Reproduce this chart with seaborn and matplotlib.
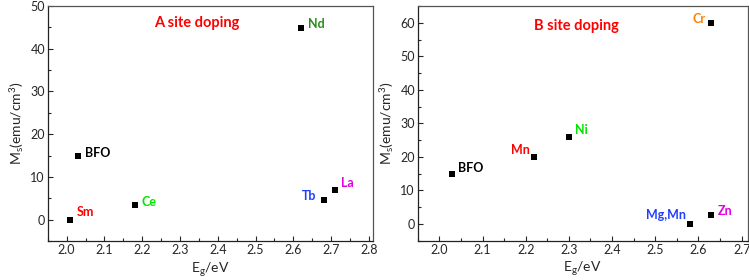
import matplotlib
matplotlib.use("Agg")
import matplotlib.pyplot as plt
import seaborn as sns
import pandas as pd
from matplotlib.ticker import MultipleLocator

# Data
a_labels = ["Sm", "BFO", "Ce", "Nd", "Tb", "La"]
a_eg = [2.01, 2.03, 2.18, 2.62, 2.68, 2.71]
a_ms = [0.0, 15.0, 3.4, 44.8, 4.5, 7.0]
a_colors = ["#FF0000", "#000000", "#00E600", "#2E8B1E", "#1F3FFF", "#E000E0"]

b_labels = ["BFO", "Mn", "Ni", "Cr", "Mg,Mn", "Zn"]
b_eg = [2.03, 2.22, 2.30, 2.63, 2.58, 2.63]
b_ms = [15.0, 20.0, 26.0, 60.0, 0.0, 2.8]
b_colors = ["#000000", "#FF0000", "#00E600", "#FF7F00", "#1F3FFF", "#E000E0"]

titles = ["A site doping", "B site doping"]

sns.set_style("ticks")
plt.rcParams['font.family'] = ['Lato', 'DejaVu Sans']
plt.rcParams['mathtext.fontset'] = 'custom'
plt.rcParams['mathtext.rm'] = 'Lato'
plt.rcParams['mathtext.it'] = 'Lato'
plt.rcParams['mathtext.default'] = 'regular'
plt.rcParams['xtick.direction'] = 'in'
plt.rcParams['ytick.direction'] = 'in'

fig = plt.figure(figsize=(7.49, 2.80), dpi=100)
ax1 = fig.add_axes([0.0637, 0.139, 0.4339, 0.8396])
ax2 = fig.add_axes([0.5577, 0.140, 0.4406, 0.8386])

df_a = pd.DataFrame({"Eg": a_eg, "Ms": a_ms, "label": a_labels})
df_b = pd.DataFrame({"Eg": b_eg, "Ms": b_ms, "label": b_labels})

sns.scatterplot(data=df_a, x="Eg", y="Ms", marker="s", color="black", s=16,
                edgecolor="black", linewidth=0, ax=ax1, zorder=3)
sns.scatterplot(data=df_b, x="Eg", y="Ms", marker="s", color="black", s=16,
                edgecolor="black", linewidth=0, ax=ax2, zorder=3)

# label offsets (pixels, to text centre-line) and alignment
a_off = {"Sm": (6, 8, "left"), "BFO": (7, 3, "left"), "Ce": (7, 3, "left"),
         "Nd": (7, 4, "left"), "Tb": (-7, 4, "right"), "La": (6, 7, "left")}
b_off = {"BFO": (6, 6, "left"), "Mn": (-4, 7, "right"), "Ni": (6, 7, "left"),
         "Cr": (-6, 4, "right"), "Mg,Mn": (-4, 9, "right"), "Zn": (6, 4, "left")}

for ax, labels, xs, ys, cols, offs in [(ax1, a_labels, a_eg, a_ms, a_colors, a_off),
                                       (ax2, b_labels, b_eg, b_ms, b_colors, b_off)]:
    for lab, x, y, c in zip(labels, xs, ys, cols):
        dx, dy, ha = offs[lab]
        ax.annotate(lab, (x, y), xytext=(dx, dy), textcoords="offset pixels",
                    ha=ha, va="center", color=c,
                    fontsize=9, fontweight="bold")

ax1.set_xlim(1.95, 2.81)
ax1.set_ylim(-5, 50)
ax1.xaxis.set_major_locator(MultipleLocator(0.1))
ax1.xaxis.set_minor_locator(MultipleLocator(0.05))
ax1.yaxis.set_major_locator(MultipleLocator(10))
ax1.yaxis.set_minor_locator(MultipleLocator(5))
ax1.text(0.459, 0.928, titles[0], transform=ax1.transAxes, color="#FF0000",
         fontsize=10.5, fontweight="bold", ha="center", va="center")

ax2.set_xlim(1.95, 2.714)
ax2.set_ylim(-5, 65)
ax2.xaxis.set_major_locator(MultipleLocator(0.1))
ax2.xaxis.set_minor_locator(MultipleLocator(0.05))
ax2.yaxis.set_major_locator(MultipleLocator(10))
ax2.yaxis.set_minor_locator(MultipleLocator(5))
ax2.text(0.482, 0.915, titles[1], transform=ax2.transAxes, color="#FF0000",
         fontsize=10.5, fontweight="bold", ha="center", va="center")

for ax in (ax1, ax2):
    ax.set_xlabel(r"E$_g$/eV", fontsize=10, labelpad=3)
    ax.set_ylabel(r"M$_s$(emu/cm$^3$)", fontsize=10, labelpad=3)
    ax.tick_params(which="major", length=3.5, width=0.8, labelsize=9, pad=2,
                   top=False, right=False)
    ax.tick_params(which="minor", length=2, width=0.8, top=False, right=False)
    for sp in ax.spines.values():
        sp.set_visible(True)
        sp.set_linewidth(0.9)
        sp.set_color("#222222")
    ax.spines["top"].set_color("#555555")
    ax.spines["right"].set_color("#555555")

fig.savefig("out.png", dpi=100)
